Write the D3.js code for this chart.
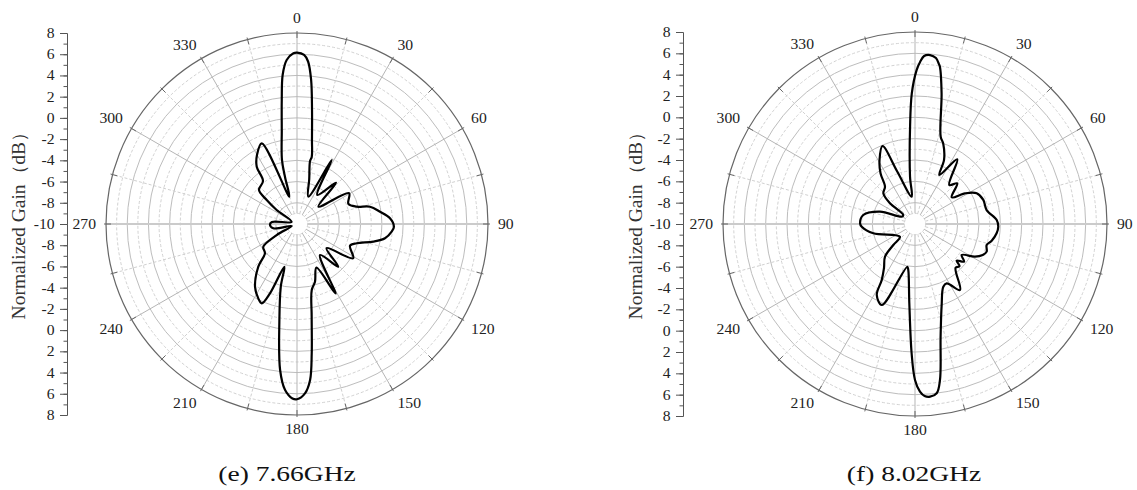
<!DOCTYPE html>
<html><head><meta charset="utf-8">
<script src="https://cdn.jsdelivr.net/npm/d3@7"></script>
<style>body{margin:0;background:#fff}svg{display:block}</style>
</head><body>
<svg id="c" width="1137" height="490"></svg>
<script>
// ---- data ----
const angleTicks = [0,30,60,90,120,150,180,210,240,270,300,330];
const gainTicksUpper = [-10,-8,-6,-4,-2,0,2,4,6,8];
const gainTicksLower = [-8,-6,-4,-2,0,2,4,6,8];
const gainMinor = [-10,-9,-8,-7,-6,-5,-4,-3,-2,-1,0,1,2,3,4,5,6,7,8];
const gainDomain = [-10, 8];
const captions = ["(e) 7.66GHz", "(f) 8.02GHz"];
const axisTitle = "Normalized Gain（dB）";

// 7.66 GHz pattern (angle in degrees, normalized gain in dB), traced in curve order
const angles766 = [0,2.4,3.9,5.6,7.5,10.1,12.4,11.7,15.2,22.5,28.5,35,43.4,50.9,59.4,68.7,73.8,76.7,81.6,86.5,91.6,94.6,99.2,103,107.9,112.3,121.4,129.3,136,143.4,151,156,162.7,167.4,171,173.5,175.2,177.3,180,181.5,184.1,186.6,190.4,194.5,196.5,201.3,204,207.5,213.8,222.2,227.5,236,241.5,249,259.7,269,274.7,292,304.6,308.4,311.8,321.7,324.9,329.9,336.4,344.3,345.7,346.8,350.8,353,354.5,356.4,358.8];
const gains766  = [6.15,5.95,5.35,3.64,0.84,-1.96,-3.53,-3.94,-5.6,-7.2,-3.14,-6.66,-4.65,-7.4,-4.3,-4.8,-4.15,-2.93,-2.09,-1.22,-0.86,-1.05,-1.6,-2.62,-4.09,-4.6,-3.8,-6.4,-4.4,-6.36,-2.5,-5.5,-4.3,-3.63,-1.16,2.26,4.75,5.98,6.52,6.45,5.69,3.85,-0.8,-3.9,-5.8,-2.99,-1.82,-2.1,-2.89,-4.57,-5.9,-6.17,-7.82,-9.47,-7.73,-7.45,-7.63,-9.45,-7.67,-6.36,-5.19,-4.83,-3.4,-2.48,-1.7,-7.33,-5.43,-3.8,-1.03,1.78,4.11,5.49,6.09];

// 8.02 GHz pattern
const angles802 = [0.6,1.8,3.1,5.1,7.2,8.5,9.0,11.5,16.4,19.3,24.4,26.4,33.2,41.3,46.1,54.0,58.5,63.5,70.6,79.0,87.2,91.9,96.5,102.3,106.3,111.1,114.6,118.6,123.6,127.5,131.3,133.5,137.2,145.7,151.9,155.7,161.8,167.2,170.9,172.7,175,176.8,178.3,180,181.5,184.1,188.3,190.2,202.3,208.3,210.7,215.2,222.5,225.9,229.8,257.4,267.1,270.7,279.9,289.4,298.8,307.6,309.6,314.1,321.2,325.8,331,337.4,341.2,353.1,354,357.1,358.6];
const gains802  = [4.43,5.19,5.77,5.9,5.68,5.16,4.93,2.5,-1.47,-2.0,-3.41,-4.87,-2.76,-5.13,-4.5,-5.75,-4.5,-3.54,-3.21,-3.16,-2.33,-2.19,-2.3,-2.64,-3.0,-2.8,-3.02,-3.6,-4.75,-4.2,-4.8,-4.25,-4.4,-2.51,-3.69,-3.55,-2.0,0.83,4.81,6.0,6.25,6.15,5.72,4.62,2.12,-2.55,-5.64,-5.93,-1.79,-2.44,-3.89,-4.96,-5.84,-7.17,-8.15,-6.0,-5.0,-4.85,-5.08,-6.52,-8.58,-8.62,-6.96,-5.87,-5.51,-4.25,-3.14,-2.08,-4.75,-7.42,-5.54,-0.87,2.25];

// ---- layout ----
const svg = d3.select("#c");
const panels = [
  {cx:297, cy:224, R:191, axisX:67,  titleX:19,  capX:287, angles:angles766, gains:gains766, caption:captions[0]},
  {cx:915, cy:224, R:192, axisX:683, titleX:636, capX:914, angles:angles802, gains:gains802, caption:captions[1]}
];
const serif = "'Liberation Serif','Times New Roman',serif";
const textColor = "#222";
const SX = 1.12;
const tickFont = 14;

panels.forEach(p => {
  const rS = d3.scaleLinear().domain(gainDomain).range([0, p.R]);
  const g = svg.append("g").attr("transform", `translate(${p.cx},${p.cy})`);
  const rad = a => a * Math.PI / 180;

  // rings
  const rings = d3.range(-9, 8);
  g.selectAll("circle.ring").data(rings).join("circle")
    .attr("r", d => rS(d)).attr("fill", "none")
    .attr("stroke", d => (d % 2 === 0) ? "#bdbdbd" : "#d2d2d2")
    .attr("stroke-width", 1)
    .attr("stroke-dasharray", d => (d % 2 === 0) ? null : "3,2");

  // spokes
  const spokes = d3.range(0, 360, 15);
  g.selectAll("line.spoke").data(spokes).join("line")
    .attr("x1", a => rS(-9) * Math.sin(rad(a))).attr("y1", a => -rS(-9) * Math.cos(rad(a)))
    .attr("x2", a => p.R * Math.sin(rad(a))).attr("y2", a => -p.R * Math.cos(rad(a)))
    .attr("stroke", a => (a === 90 || a === 270) ? "#cbcbcb" : (a % 30 === 0 ? "#b5b5b5" : "#d0d0d0"))
    .attr("stroke-width", a => (a === 90 || a === 270) ? 2 : 1)
    .attr("stroke-dasharray", a => a % 30 === 0 ? null : "3,2");

  // outer ticks
  g.selectAll("line.tick").data(spokes).join("line")
    .attr("x1", a => (p.R - 5) * Math.sin(rad(a))).attr("y1", a => -(p.R - 5) * Math.cos(rad(a)))
    .attr("x2", a => (p.R + 2) * Math.sin(rad(a))).attr("y2", a => -(p.R + 2) * Math.cos(rad(a)))
    .attr("stroke", "#666").attr("stroke-width", 1);

  // outer circle
  g.append("circle").attr("r", rS(gainDomain[1])).attr("fill", "none")
    .attr("stroke", "#666").attr("stroke-width", 1.2);

  // angle labels: anchored by nearest corner at R + 10
  const digitH = 0.676 * tickFont;
  angleTicks.forEach(a => {
    const s = Math.sin(rad(a)), c = Math.cos(rad(a));
    const sgnS = Math.abs(s) < 0.01 ? 0 : Math.sign(s);
    const sgnC = Math.abs(c) < 0.01 ? 0 : Math.sign(c);
    const lr = p.R + 10;
    const x = lr * s;
    const y = -lr * c - sgnC * digitH / 2;
    g.append("text").text(String(a))
      .attr("font-family", serif).attr("font-size", tickFont).attr("fill", textColor)
      .attr("text-anchor", sgnS > 0 ? "start" : (sgnS < 0 ? "end" : "middle"))
      .attr("dominant-baseline", "central")
      .attr("transform", `translate(${x},${y}) scale(${SX},1)`);
  });

  // pattern curve
  const pts = d3.zip(p.angles, p.gains);
  const line = d3.lineRadial()
    .angle(d => rad(d[0]))
    .radius(d => rS(d[1]))
    .curve(d3.curveCatmullRomClosed.alpha(0.5));
  g.append("path").attr("d", line(pts)).attr("fill", "none")
    .attr("stroke", "#000").attr("stroke-width", 2.2).attr("stroke-linejoin", "round");

  // left radial axis (mirrored)
  const yUp = d3.scaleLinear().domain(gainDomain).range([p.cy, p.cy - p.R]);
  const yDown = d3.scaleLinear().domain(gainDomain).range([p.cy, p.cy + p.R]);
  const ax = svg.append("g").attr("transform", `translate(${p.axisX},0)`);
  const styleAxis = sel => {
    sel.selectAll("path, line").attr("stroke", "#555").attr("stroke-width", 1);
    sel.selectAll("text").attr("font-family", serif).attr("font-size", tickFont)
      .attr("fill", textColor).attr("transform", `scale(${SX},1)`);
  };
  ax.append("g").call(d3.axisLeft(yUp).tickValues(gainMinor).tickSize(3.5).tickSizeOuter(0).tickFormat(""))
    .call(styleAxis);
  ax.append("g").call(d3.axisLeft(yDown).tickValues(gainMinor).tickSize(3.5).tickSizeOuter(0).tickFormat(""))
    .call(styleAxis);
  ax.append("g").call(d3.axisLeft(yUp).tickValues(gainTicksUpper).tickSize(7).tickPadding(4).tickSizeOuter(0).tickFormat(d => String(d)))
    .call(styleAxis);
  ax.append("g").call(d3.axisLeft(yDown).tickValues(gainTicksLower).tickSize(7).tickPadding(4).tickSizeOuter(0).tickFormat(d => String(d)))
    .call(styleAxis);

  // axis title
  svg.append("text").text(axisTitle)
    .attr("transform", `translate(${p.titleX},${p.cy - 3}) rotate(-90)`)
    .attr("text-anchor", "middle").attr("dominant-baseline", "central")
    .attr("font-family", serif).attr("font-size", 18).attr("fill", "#333")
    .attr("textLength", 197).attr("lengthAdjust", "spacingAndGlyphs");

  // caption
  svg.append("text").text(p.caption)
    .attr("transform", `translate(${p.capX},481) scale(1.25,1)`)
    .attr("text-anchor", "middle")
    .attr("font-family", serif).attr("font-size", 22).attr("fill", "#111");
});
</script>
</body></html>
